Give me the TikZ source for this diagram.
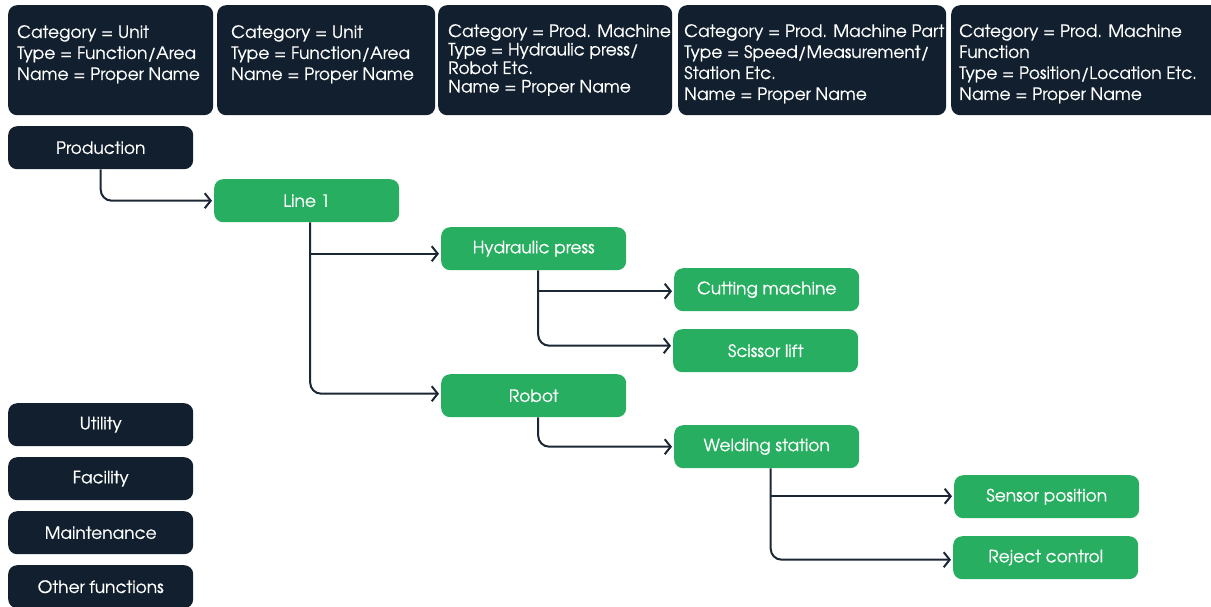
\documentclass[tikz,border=0pt]{standalone}
\usepackage{fontspec}
\setmainfont[FakeBold=0.6]{TeX Gyre Adventor}
\usetikzlibrary{arrows.meta,positioning,calc}
\definecolor{navy}{HTML}{111F2E}
\definecolor{leaf}{HTML}{27AE60}
\definecolor{wire}{HTML}{1B2735}
\tikzset{
  card/.style={fill=navy, draw=none, rounded corners=9pt, anchor=north west, inner sep=0pt},
  cardtext/.style={anchor=north west, inner sep=0pt, text=white, align=left, font=\fontsize{17}{21}\selectfont},
  darkbox/.style={fill=navy, rounded corners=9pt, anchor=north west, minimum width=185pt, minimum height=43pt, text=white, font=\fontsize{17}{18}\selectfont, inner sep=0pt},
  greenbox/.style={fill=leaf, rounded corners=9pt, anchor=north west, minimum width=185pt, minimum height=43pt, text=white, font=\fontsize{17}{18}\selectfont, inner sep=0pt},
  conn/.style={draw=wire, line width=2pt, rounded corners=11pt, -{Straight Barb[length=6pt,width=15pt,line width=2pt]}, shorten >=2pt},
}
\begin{document}
\begin{tikzpicture}[x=1pt,y=-1pt]
\useasboundingbox (0,0) rectangle (1211,606);

% header cards
\node[card, minimum width=205pt, minimum height=110pt] (h1) at (8,5) {};
\node[card, minimum width=218pt, minimum height=110pt] (h2) at (217,5) {};
\node[card, minimum width=234pt, minimum height=110pt] (h3) at (438,5) {};
\node[card, minimum width=268pt, minimum height=110pt] (h4) at (678,5) {};
\node[card, minimum width=275pt, minimum height=110pt] (h5) at (951,5) {};

\node[cardtext] (t1) at ($(h1.north west)+(9,20)$) {Category = Unit\\Type = Function/Area\\Name = Proper Name};
\node[cardtext] (t2) at ($(h2.north west)+(14,20)$) {Category = Unit\\Type = Function/Area\\Name = Proper Name};
\node[cardtext, font=\fontsize{17}{18.5}\selectfont] (t3) at ($(h3.north west)+(10,19)$) {Category = Prod. Machine\\Type = Hydraulic press/\\Robot Etc.\\Name = Proper Name};
\node[cardtext] (t4) at ($(h4.north west)+(6,19)$) {Category = Prod. Machine Part\\Type = Speed/Measurement/\\Station Etc.\\Name = Proper Name};
\node[cardtext] (t5) at ($(h5.north west)+(8,19)$) {Category = Prod. Machine\\Function\\Type = Position/Location Etc.\\Name = Proper Name};

% left column of function areas
\node[darkbox] (prod) at (8,126) {Production};
\node[darkbox] (util) at (8,403) {Utility};
\node[darkbox] (fac)  at (8,457) {Facility};
\node[darkbox] (mnt)  at (8,511) {Maintenance};
\node[darkbox] (oth)  at (8,565) {Other functions};

% production tree
\node[greenbox] (line1) at (214,179) {Line 1};
\node[greenbox] (hyd)   at (441,227) {Hydraulic press};
\node[greenbox] (cut)   at (674,268) {Cutting machine};
\node[greenbox] (sci)   at (673,329) {Scissor lift};
\node[greenbox] (rob)   at (441,374) {Robot};
\node[greenbox] (weld)  at (674,425) {Welding station};
\node[greenbox] (sens)  at (954,475) {Sensor position};
\node[greenbox] (rej)   at (953,536) {Reject control};

% connectors
\draw[conn] (prod.south) |- (line1.west);

\coordinate (j1) at ($(line1.south)+(3.5,0)$);
\draw[conn] (j1) |- ($(rob.west)+(0,-2)$);
\draw[conn] ($(j1 |- hyd.west)+(0,5)$) -- ($(hyd.west)+(0,5)$);

\coordinate (j2) at ($(hyd.south)+(4.5,0)$);
\draw[conn] (j2) |- ($(sci.west)+(0,-5)$);
\draw[conn] ($(j2 |- cut.west)+(0,1.5)$) -- ($(cut.west)+(0,1.5)$);

\coordinate (j3) at ($(rob.south)+(4.5,0)$);
\draw[conn] (j3) |- (weld.west);

\coordinate (j4) at ($(weld.south)+(4,0)$);
\draw[conn] (j4) |- ($(rej.west)+(0,2)$);
\draw[conn] ($(j4 |- sens.west)+(0,-0.5)$) -- ($(sens.west)+(0,-0.5)$);
\end{tikzpicture}
\end{document}
